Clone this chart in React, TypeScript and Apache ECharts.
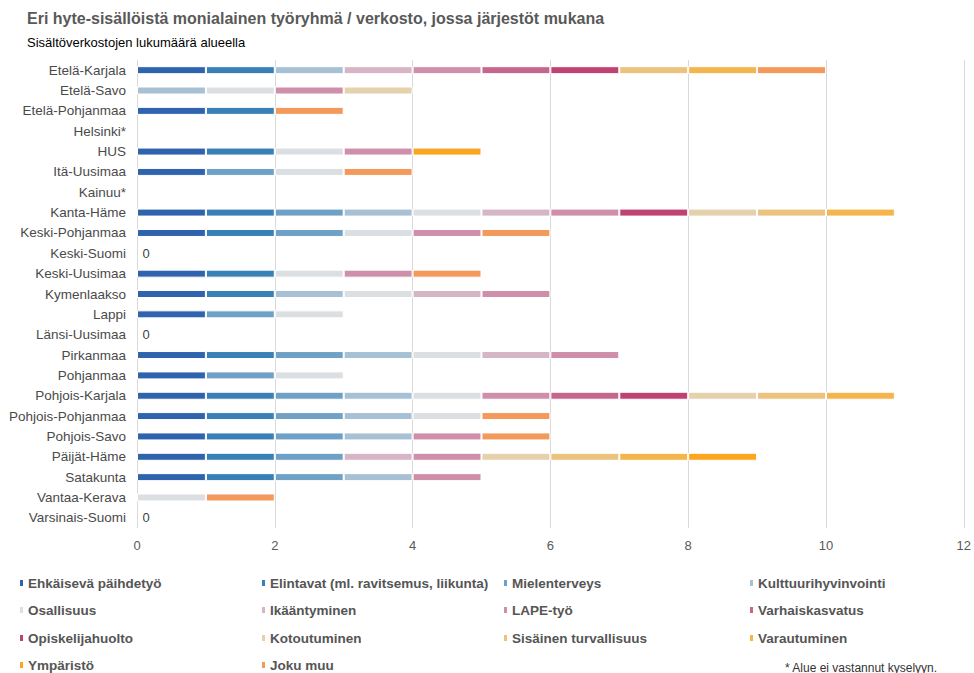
import React, { useEffect, useRef } from "react";
import * as echarts from "echarts";

const regions = [
  "Etelä-Karjala", "Etelä-Savo", "Etelä-Pohjanmaa", "Helsinki*", "HUS", "Itä-Uusimaa",
  "Kainuu*", "Kanta-Häme", "Keski-Pohjanmaa", "Keski-Suomi", "Keski-Uusimaa", "Kymenlaakso",
  "Lappi", "Länsi-Uusimaa", "Pirkanmaa", "Pohjanmaa", "Pohjois-Karjala", "Pohjois-Pohjanmaa",
  "Pohjois-Savo", "Päijät-Häme", "Satakunta", "Vantaa-Kerava", "Varsinais-Suomi",
];

// 1 = region has a network on this topic (order follows regions)
//                                EK ES EP He HU IU Ka KH KP KS KU Ky La LU Pi Po PK PP PS PH Sa VK VS
const ehkaisevaPaihdetyo       = [1, 0, 1, 0, 1, 1, 0, 1, 1, 0, 1, 1, 1, 0, 1, 1, 1, 1, 1, 1, 1, 0, 0];
const elintavat                = [1, 0, 1, 0, 1, 0, 0, 1, 1, 0, 1, 1, 0, 0, 1, 0, 1, 1, 1, 1, 1, 0, 0];
const mielenterveys            = [0, 0, 0, 0, 0, 1, 0, 1, 1, 0, 0, 0, 1, 0, 1, 1, 1, 1, 1, 1, 1, 0, 0];
const kulttuurihyvinvointi     = [1, 1, 0, 0, 0, 0, 0, 1, 0, 0, 0, 1, 0, 0, 1, 0, 1, 1, 1, 0, 1, 0, 0];
const osallisuus               = [0, 1, 0, 0, 1, 1, 0, 1, 1, 0, 1, 1, 1, 0, 1, 1, 1, 1, 0, 0, 0, 1, 0];
const ikaantyminen             = [1, 0, 0, 0, 0, 0, 0, 1, 0, 0, 0, 1, 0, 0, 1, 0, 0, 0, 0, 1, 0, 0, 0];
const lapeTyo                  = [1, 1, 0, 0, 1, 0, 0, 1, 1, 0, 1, 1, 0, 0, 1, 0, 1, 0, 1, 1, 1, 0, 0];
const varhaiskasvatus          = [1, 0, 0, 0, 0, 0, 0, 0, 0, 0, 0, 0, 0, 0, 0, 0, 1, 0, 0, 0, 0, 0, 0];
const opiskelijahuolto         = [1, 0, 0, 0, 0, 0, 0, 1, 0, 0, 0, 0, 0, 0, 0, 0, 1, 0, 0, 0, 0, 0, 0];
const kotoutuminen             = [0, 1, 0, 0, 0, 0, 0, 1, 0, 0, 0, 0, 0, 0, 0, 0, 1, 0, 0, 1, 0, 0, 0];
const sisainenTurvallisuus     = [1, 0, 0, 0, 0, 0, 0, 1, 0, 0, 0, 0, 0, 0, 0, 0, 1, 0, 0, 1, 0, 0, 0];
const varautuminen             = [1, 0, 0, 0, 0, 0, 0, 1, 0, 0, 0, 0, 0, 0, 0, 0, 1, 0, 0, 1, 0, 0, 0];
const ymparisto                = [0, 0, 0, 0, 1, 0, 0, 0, 0, 0, 0, 0, 0, 0, 0, 0, 0, 0, 0, 1, 0, 0, 0];
const jokuMuu                  = [1, 0, 1, 0, 0, 1, 0, 0, 1, 0, 1, 0, 0, 0, 0, 0, 0, 1, 1, 0, 0, 1, 0];

const seriesNames = [
  "Ehkäisevä päihdetyö", "Elintavat (ml. ravitsemus, liikunta)", "Mielenterveys", "Kulttuurihyvinvointi",
  "Osallisuus", "Ikääntyminen", "LAPE-työ", "Varhaiskasvatus",
  "Opiskelijahuolto", "Kotoutuminen", "Sisäinen turvallisuus", "Varautuminen",
  "Ympäristö", "Joku muu",
];
const seriesValues = [
  ehkaisevaPaihdetyo, elintavat, mielenterveys, kulttuurihyvinvointi,
  osallisuus, ikaantyminen, lapeTyo, varhaiskasvatus,
  opiskelijahuolto, kotoutuminen, sisainenTurvallisuus, varautuminen,
  ymparisto, jokuMuu,
];
const seriesColors = [
  "#2f63ae", "#3980b7", "#6fa0c6", "#a7c0d4",
  "#dcdfe1", "#d6b5c4", "#cf8ea9", "#c5678d",
  "#bf4271", "#e6d1ad", "#ecc27f", "#f4b54c",
  "#fba61e", "#f2995b",
];
const xTicks = [0, 2, 4, 6, 8, 10, 12];

const FONT = "'Liberation Sans', Arial, sans-serif";

export default function App() {
  const ref = useRef<HTMLDivElement>(null);
  useEffect(() => {
    if (!ref.current) return;
    const chart = echarts.init(ref.current, undefined, { renderer: "svg" });

    const totals = regions.map((_, i) => seriesValues.reduce((s, arr) => s + arr[i], 0));
    const zeroData = regions.map((r, i) => (totals[i] === 0 && !r.endsWith("*") ? 0 : null));

    const barSeries = seriesNames.map((name, k) => ({
      name,
      type: "bar",
      stack: "total",
      barWidth: 8,
      data: seriesValues[k].map((v) => (v ? v : null)),
      itemStyle: { color: seriesColors[k], borderColor: "#ffffff", borderWidth: 1 },
      emphasis: { disabled: true },
    }));

    const colLefts = [13, 255, 497, 743];
    const rowTops = [570, 597, 625, 652];
    const legends = seriesNames.map((name, i) => ({
      orient: "horizontal",
      left: colLefts[i % 4],
      top: rowTops[Math.floor(i / 4)],
      itemWidth: 5,
      itemHeight: 8,
      icon: "rect",
      selectedMode: false,
      data: [name],
      textStyle: {
        color: "#555555",
        fontSize: 13.5,
        fontWeight: "bold",
        fontFamily: FONT,
        lineHeight: 16,
        padding: [0, 0, 0, -1],
      },
    }));

    chart.setOption({
      animation: false,
      textStyle: { fontFamily: FONT },
      grid: { left: 137, right: 8, top: 60, height: 468, containLabel: false },
      xAxis: {
        type: "value",
        min: xTicks[0],
        max: xTicks[xTicks.length - 1],
        interval: 2,
        axisLine: { show: false },
        axisTick: { show: false },
        splitLine: { show: true, lineStyle: { color: "#d9d9d9", width: 1 } },
        axisLabel: { color: "#595959", fontSize: 13, margin: 11, fontFamily: FONT },
      },
      yAxis: {
        type: "category",
        data: regions,
        inverse: true,
        axisLine: { show: false },
        axisTick: { show: false },
        splitLine: { show: false },
        axisLabel: { color: "#4a4a4a", fontSize: 13.5, margin: 11, fontFamily: FONT },
      },
      legend: legends,
      series: [
        ...barSeries,
        {
          name: "_zero",
          type: "scatter",
          data: zeroData,
          symbolSize: 1,
          itemStyle: { color: "rgba(0,0,0,0)" },
          label: {
            show: true,
            position: "right",
            distance: 5,
            formatter: "0",
            color: "#000000",
            fontSize: 13,
            fontFamily: FONT,
          },
          emphasis: { disabled: true },
        },
      ],
      graphic: [
        {
          type: "text",
          left: 27,
          top: 10,
          style: {
            text: "Eri hyte-sisällöistä monialainen työryhmä / verkosto, jossa järjestöt mukana",
            fill: "#595959",
            font: `bold 16px ${FONT}`,
          },
        },
        {
          type: "text",
          left: 27,
          top: 36,
          style: {
            text: "Sisältöverkostojen lukumäärä alueella",
            fill: "#000000",
            font: `13px ${FONT}`,
          },
        },
        {
          type: "text",
          left: 785,
          top: 662,
          style: {
            text: "* Alue ei vastannut kyselyyn.",
            fill: "#333333",
            font: `12px ${FONT}`,
          },
        },
      ],
    });
    return () => chart.dispose();
  }, []);
  return (
    <div
      ref={ref}
      style={{ position: "fixed", left: 0, top: 0, width: 974, height: 673, background: "#ffffff" }}
    />
  );
}
